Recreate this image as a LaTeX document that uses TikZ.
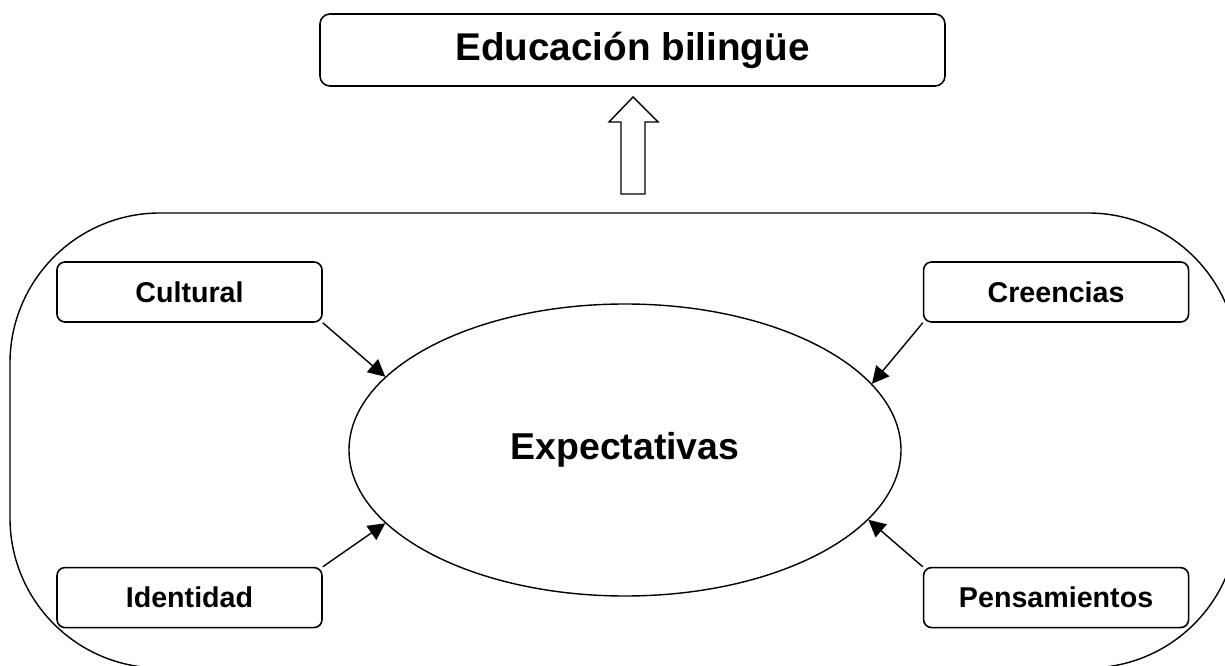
\documentclass[tikz,border=0pt]{standalone}
\usepackage{fontspec}
\setmainfont{Liberation Sans}
\usetikzlibrary{positioning, arrows.meta, shapes.geometric}

\begin{document}
\begin{tikzpicture}[
    node distance=2cm,
    box/.style={
        draw,
        rectangle,
        rounded corners=0.16cm,
        line width=0.9pt,
        minimum width=5.3cm,
        minimum height=1.2cm,
        font=\fontsize{16.3}{19}\selectfont\bfseries
    },
    bigtext/.style={font=\fontsize{21.3}{26}\selectfont\bfseries},
    arrow/.style={-{Triangle[length=0.34cm,width=0.34cm]}, line width=0.8pt}
]
    \useasboundingbox (0,0) rectangle (24.5,13.3);
    \clip (0,0) rectangle (24.5,13.3);

    % outer frame
    \draw[line width=0.8pt, rounded corners=3cm] (0.2,9.04) rectangle (24.76,-0.06);

    \node (title) [box, minimum width=12.5cm, minimum height=1.44cm, rounded corners=0.2cm, font=\fontsize{22}{26}\selectfont\bfseries] at (12.65,12.3) {Educación bilingüe};
    \node (expect) [draw, ellipse, bigtext, line width=0.8pt, minimum width=11.04cm, minimum height=5.84cm] at (12.5,4.3) {Expectativas};
    \node (cult) [box] at (3.79,7.46) {Cultural};
    \node (creen) [box, right=12cm of cult] {Creencias};
    \node (ident) [box, below=4.88cm of cult] {Identidad};
    \node (pens) [box, right=12cm of ident] {Pensamientos};

    \draw[arrow] (cult.south east) -- (expect.163);
    \draw[arrow] (creen.south west) -- (expect.15);
    \draw[arrow] (ident.north east) -- (expect.197);
    \draw[arrow] (pens.north west) -- (expect.344);

    % hollow arrow up
    \draw[line width=0.8pt] (12.42,9.42) -- (12.42,10.86) -- (12.18,10.86) -- (12.66,11.36)
        -- (13.16,10.86) -- (12.90,10.86) -- (12.90,9.42) -- cycle;

\end{tikzpicture}
\end{document}
